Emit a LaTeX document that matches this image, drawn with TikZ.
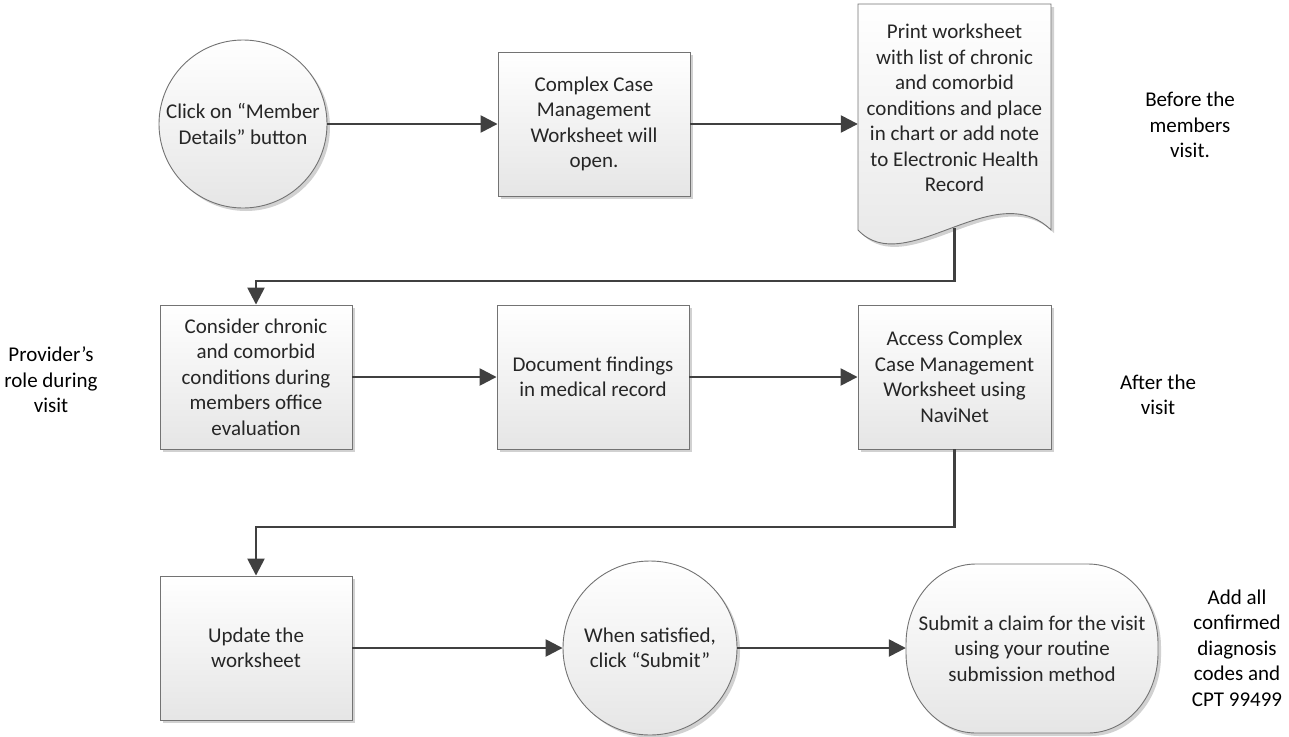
\documentclass[tikz,border=0pt]{standalone}
\usepackage{fontspec}
\setmainfont{Carlito}
\usetikzlibrary{arrows.meta,shadows}
\begin{document}
\begin{tikzpicture}[x=1pt,y=-1pt,
  every node/.style={font=\fontsize{21}{25.5}\selectfont, text=black!85, align=center},
  shapebase/.style={draw=black!55, line width=0.9pt, top color=white, bottom color=black!10,
    drop shadow={shadow xshift=3pt, shadow yshift=-3pt, fill=black!18, opacity=1}},
  procbox/.style={shapebase, rectangle, minimum width=192pt, minimum height=144pt, inner sep=0pt},
  termcirc/.style={shapebase, circle, inner sep=0pt},
  outline/.style={draw=black!55, line width=0.9pt, top color=white, bottom color=black!10},
  shadowfill/.style={fill=black!18},
  lab/.style={text=black},
  conn/.style={draw=black!75, line width=2.5pt, -{Triangle[length=17pt,width=17pt]}},
]
\useasboundingbox (0,0) rectangle (1289,736);

% row 1
\node[termcirc, minimum size=168pt] (c1) at (243,124) {Click on “Member\\Details” button};
\node[procbox] (b2) at (594,124) {Complex Case\\Management\\Worksheet will\\open.};

% document shape
\begin{scope}[shift={(3,3)}]
\fill[shadowfill] (858,4) -- (1051,4) -- (1051,230) .. controls (995,175) and (905,280) .. (858,230) -- cycle;
\end{scope}
\path[outline]
  (858,4) -- (1051,4) -- (1051,230) .. controls (995,175) and (905,280) .. (858,230) -- cycle;
\node[minimum width=193pt, minimum height=208pt, inner sep=0pt] (doc) at (954.5,108)
  {Print worksheet\\with list of chronic\\and comorbid\\conditions and place\\in chart or add note\\to Electronic Health\\Record};
\coordinate (docb) at (954.5,228);
\coordinate (k1) at (954.5,281);

\node[lab] (before) at (1190,125) {Before the\\members\\visit.};

% row 2
\node[procbox] (b5) at (256,377) {Consider chronic\\and comorbid\\conditions during\\members office\\evaluation};
\node[procbox] (b6) at (593,377) {Document findings\\in medical record};
\node[procbox, minimum width=193pt] (b7) at (954.5,377) {Access Complex\\Case Management\\Worksheet using\\NaviNet};
\coordinate (k2) at (954.5,527);

\node[lab] (provider) at (51,380) {Provider’s\\role during\\visit};
\node[lab] (after) at (1158,395) {After the\\visit};

% row 3
\node[procbox] (b8) at (256,648) {Update the\\worksheet};
\node[termcirc, minimum size=174pt] (c9) at (650,648) {When satisfied,\\click “Submit”};

% terminator shape (elliptical corners)
\begin{scope}[shift={(3,3)}]
\fill[shadowfill] (976,564) -- (1088,564) .. controls (1126.7,564) and (1158,599.8) .. (1158,644)
  -- (1158,653) .. controls (1158,697.2) and (1126.7,733) .. (1088,733)
  -- (976,733) .. controls (937.3,733) and (906,697.2) .. (906,653)
  -- (906,644) .. controls (906,599.8) and (937.3,564) .. (976,564) -- cycle;
\end{scope}
\path[outline] (976,564) -- (1088,564) .. controls (1126.7,564) and (1158,599.8) .. (1158,644)
  -- (1158,653) .. controls (1158,697.2) and (1126.7,733) .. (1088,733)
  -- (976,733) .. controls (937.3,733) and (906,697.2) .. (906,653)
  -- (906,644) .. controls (906,599.8) and (937.3,564) .. (976,564) -- cycle;
\node[minimum width=252pt, minimum height=169pt, inner sep=0pt] (r10) at (1032,648.5)
  {Submit a claim for the visit\\using your routine\\submission method};
\node[lab] (addall) at (1237,648) {Add all\\confirmed\\diagnosis\\codes and\\CPT 99499};

% connectors
\draw[conn] (c1.east) -- (b2.west);
\draw[conn] (b2.east) -- (b2.east -| doc.west);
\draw[conn] (docb) -- (k1) -| (b5.north);
\draw[conn] (b5.east) -- (b6.west);
\draw[conn] (b6.east) -- (b7.west);
\draw[conn] (b7.south) -- (k2) -| (b8.north);
\draw[conn] (b8.east) -- (c9.west);
\draw[conn] (c9.east) -- (c9.east -| r10.west);
\end{tikzpicture}
\end{document}
